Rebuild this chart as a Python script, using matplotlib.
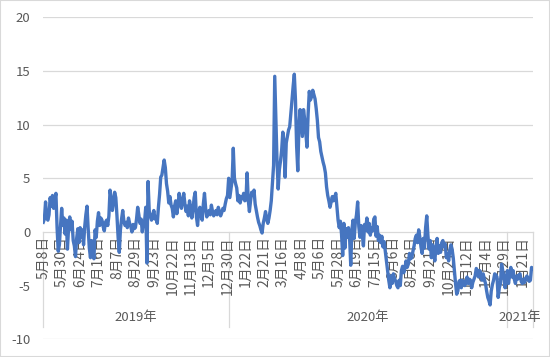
"""
daily spread line chart, 2019-05 to 2021-01
category axis of trading days with date labels every 16 days and year groups
"""

import matplotlib.pyplot as plt

plt.rcParams['font.family'] = ['Noto Sans CJK SC', 'DejaVu Sans']

## data, one value per trading day
values = [
    0.9, 1.2, 2.8, 1.3, 1.1, 1.6, 3.2, 2.4, 3.4, 2.2, 3.0, 3.6, 0.4, -1.8, -1.2, 0.6,
    2.2, 0.6, 1.3, -0.2, 1.1, -1.6, 0.4, 1.4, 0.2, 1.0, -0.8, -1.3, -2.3, -0.6, 0.3, -1.0,
    0.4, -0.5, 0.2, -1.2, 0.5, 1.6, 2.4, 0.3, -1.5, -2.4, -0.8, -1.6, -2.5, 0.2, -0.5, 1.0,
    1.8, 0.6, 1.3, 1.1, 0.5, 0.1, 0.9, 1.1, 0.6, 1.5, 3.9, 3.1, 2.0, 2.8, 3.7, 3.2,
    1.5, -0.5, -1.9, 0.2, 1.2, 2.0, 1.0, 0.6, 0.9, 0.4, 1.3, 0.8, 0.5, 0.0, 0.7, 0.3,
    0.4, 1.2, 2.3, 1.6, 0.8, 1.2, 0.0, 0.9, 1.0, 2.3, -2.9, 4.7, 2.0, 1.5, 1.1, 1.4,
    2.0, 1.2, 1.4, 0.8, 2.3, 3.5, 5.1, 5.3, 6.0, 6.7, 6.0, 4.5, 3.8, 2.7, 3.3, 2.5,
    2.2, 1.4, 2.4, 2.9, 1.7, 2.5, 3.6, 2.8, 2.2, 3.0, 3.6, 2.6, 1.9, 2.4, 1.5, 2.9,
    2.3, 1.3, 2.0, 3.2, 3.7, 1.4, 0.6, 1.9, 2.3, 1.5, 1.1, 2.6, 3.6, 2.2, 1.4, 1.8,
    2.0, 1.6, 2.5, 1.9, 1.5, 1.8, 2.0, 1.6, 2.3, 1.9, 1.5, 1.8, 2.2, 2.0, 2.6, 3.1,
    3.4, 5.0, 3.2, 4.0, 4.8, 7.8, 5.0, 4.5, 4.1, 2.9, 3.4, 2.7, 3.3, 3.1, 3.6, 2.9,
    3.0, 5.5, 3.0, 1.9, 2.9, 3.7, 3.4, 3.9, 2.6, 2.0, 1.4, 0.9, 0.6, 0.2, -0.1, 0.8,
    1.3, 1.9, 1.2, 0.8, 1.3, 2.0, 2.9, 4.5, 6.2, 14.5, 10.5, 6.5, 4.0, 5.8, 6.6, 7.6,
    9.3, 8.4, 5.1, 8.3, 8.9, 9.5, 9.8, 11.0, 12.3, 13.6, 14.7, 12.3, 8.0, 5.7, 9.8, 11.4,
    10.2, 8.9, 11.4, 10.5, 9.2, 7.9, 11.0, 13.1, 12.3, 12.6, 13.2, 12.8, 12.4, 11.5, 10.4, 8.8,
    8.4, 7.5, 7.0, 6.5, 6.1, 5.5, 4.2, 3.4, 2.9, 2.3, 2.8, 3.3, 2.9, 3.2, 3.6, 2.3,
    1.1, 0.4, 1.0, -0.2, -2.2, 0.8, -1.5, 0.3, -0.5, 0.4, -0.6, -3.1, 0.2, 1.1, -0.6, 0.9,
    1.6, 2.8, 0.5, -0.5, 0.6, -0.2, -1.3, 0.7, 0.2, 1.3, 0.0, 0.8, -0.3, 0.4, 0.1, 1.2,
    1.4, -0.4, 0.5, -0.8, -0.3, -1.0, -0.4, -1.4, -0.9, -1.8, -2.7, -3.6, -4.5, -5.2, -4.1, -4.8,
    -3.9, -4.3, -4.6, -5.0, -5.2, -4.5, -5.0, -3.6, -3.2, -3.8, -3.4, -2.7, -3.3, -3.0, -2.0, -2.5,
    -2.4, -1.8, -1.3, -0.6, -0.3, -1.0, 0.2, -0.5, -1.4, -2.0, -0.6, -1.5, 0.4, 1.5, -0.3, -1.6,
    -0.8, -2.4, -1.2, -2.0, -2.7, -1.4, -0.6, -2.0, -1.3, -1.9, -1.0, -0.8, -1.4, -1.1, -2.4, -2.0,
    -2.7, -1.7, -1.2, -1.6, -2.4, -3.6, -4.8, -5.8, -5.5, -4.6, -4.5, -5.2, -4.5, -4.7, -5.0, -4.6,
    -4.2, -4.8, -4.4, -4.5, -5.2, -4.7, -4.4, -4.1, -3.4, -3.6, -4.2, -3.6, -4.0, -4.5, -3.9, -4.4,
    -4.8, -5.5, -6.1, -6.4, -6.8, -5.5, -4.9, -4.5, -3.9, -4.0, -4.2, -6.1, -5.2, -4.8, -3.0, -3.6,
    -4.2, -5.2, -4.4, -3.6, -4.8, -4.0, -3.3, -4.2, -3.6, -4.4, -4.8, -4.1, -4.4, -4.0, -3.9, -4.6,
    -4.8, -4.4, -4.7, -4.3, -4.1, -4.4, -4.6, -4.5, -3.3, -3.4,
]

date_labels = ["5月8日", "5月30日", "6月24日", "7月16日", "8月7日", "8月29日",
               "9月23日", "10月22日", "11月13日", "12月5日", "12月30日",
               "1月22日", "2月21日", "3月16日", "4月8日", "5月6日", "5月28日",
               "6月19日", "7月15日", "8月6日", "8月28日", "9月21日", "10月21日",
               "11月12日", "12月4日", "12月29日", "1月21日"]
label_step = 16

years = ["2019年", "2020年", "2021年"]
year_starts = [0, 162, 403]

y_ticks = [-10, -5, 0, 5, 10, 15, 20]


def main():
    n = len(values)
    grey = '#d9d9d9'
    text_col = '#595959'

    fig = plt.figure(figsize=(5.5, 3.57), dpi=100)
    ax = fig.add_axes([0.0776, 0.0496, 0.892, 0.902])

    ## gridlines (the -5 one is hidden behind the label area)
    for v in y_ticks:
        if v in (0, -5):
            continue
        ax.axhline(v, color=grey, lw=0.9, zorder=0)

    ## the line
    ax.plot(range(n), values, color='#4675c0', lw=2.4,
            solid_joinstyle='round', zorder=3)

    ax.set_xlim(-0.5, n - 0.5)
    ax.set_ylim(-10, 20)

    ## axis spines: only the category axis at y=0
    for s in ['top', 'right', 'left']:
        ax.spines[s].set_visible(False)
    ax.spines['bottom'].set_position(('data', 0))
    ax.spines['bottom'].set_color(grey)
    ax.spines['bottom'].set_linewidth(0.9)

    ax.set_xticks(range(0, n, label_step)[:len(date_labels)])
    ax.set_xticklabels(date_labels, rotation=90)
    ax.tick_params(axis='x', length=0, pad=3, labelsize=10, labelcolor=text_col)

    ax.set_yticks(y_ticks)
    ax.set_yticklabels([str(v) for v in y_ticks])
    ax.tick_params(axis='y', length=0, pad=9, labelsize=9.5, labelcolor=text_col)

    ## year groups
    bounds = [s - 0.5 for s in year_starts] + [n - 0.5]
    for b in bounds:
        ax.plot([b, b], [0, -8.9], color=grey, lw=0.9, zorder=1, clip_on=False)
    for i, yr in enumerate(years):
        c = (bounds[i] + bounds[i + 1]) / 2
        ax.text(c, -8.0, yr, ha='center', va='center', fontsize=9.5, color=text_col)

    ## chart border
    fig.add_artist(plt.Rectangle((0, 0), 1, 1, transform=fig.transFigure,
                                 fill=False, edgecolor=grey, lw=1.5))

    fig.savefig('out.png', dpi=100)


if __name__ == '__main__':
    main()
